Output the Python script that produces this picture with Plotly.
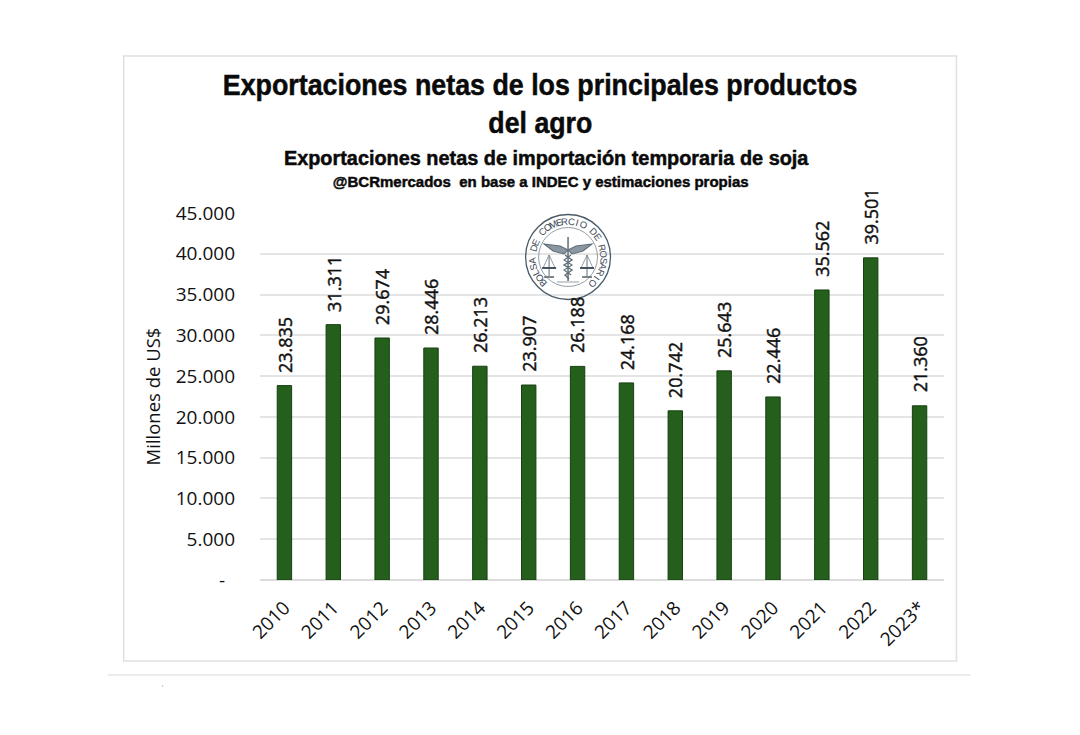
import math
import json
import plotly.graph_objects as go

years = ["2010","2011","2012","2013","2014","2015","2016","2017","2018","2019","2020","2021","2022","2023*"]
values = [23835,31311,29674,28446,26213,23907,26188,24168,20742,25643,22446,35562,39501,21360]
y_ticks = [0,5000,10000,15000,20000,25000,30000,35000,40000,45000]
y_tick_labels = ["-\u00a0\u00a0","5.000","10.000","15.000","20.000","25.000","30.000","35.000","40.000","45.000"]
value_labels = [f"{v:,}".replace(",", ".") for v in values]
title_lines = ["Exportaciones netas de los principales productos", "del agro"]
subtitle = "Exportaciones netas de importación temporaria de soja"
source = "@BCRmercados  en base a INDEC y estimaciones propias"
logo_text = "BOLSA DE COMERCIO DE ROSARIO"

W, H = 1080, 735
L, R, T, B = 259.5, 944.5, 213, 580
def px(x): return (x - L) / (R - L)
def py(y): return (B - y) / (B - T)

shapes, ann = [], []
def line(x0, y0, x1, y1, color="#e2e2e2", width=1.5):
    shapes.append(dict(type="line", xref="paper", yref="paper", x0=px(x0), y0=py(y0), x1=px(x1), y1=py(y1),
                       line=dict(color=color, width=width), layer="below"))
def text(x, y, s, size, font="Liberation Sans", bold=True, angle=0, color="#0a0a0a"):
    ann.append(dict(xref="paper", yref="paper", x=px(x), y=py(y), text=f"<b>{s}</b>" if bold else s, showarrow=False,
                    xanchor="center", yanchor="middle", textangle=angle,
                    font=dict(family=font, size=size, color=color)))

# frame, rule and the small speck under it
shapes.append(dict(type="rect", xref="paper", yref="paper", x0=px(123), y0=py(56), x1=px(957), y1=py(661),
                   line=dict(color="#e0e0e0", width=1.5), layer="below"))
line(107, 675, 971, 675, "#e6e6e6", 1.5)
line(162, 685, 162, 687, "#c8c8c8", 1)

# headings (condensed to the reference widths by the script at the end)
text(539.5, 85, title_lines[0], 30)
text(540, 123, title_lines[1], 30)
text(546.5, 157, subtitle, 21)
text(540, 181, source, 15.5)
heading_widths = [635, 104, 525, 416]

# logo
cx, cy = 568, 257
def circle(r, w, color="#4a5a66"):
    shapes.append(dict(type="circle", xref="paper", yref="paper", x0=px(cx-r), x1=px(cx+r), y0=py(cy-r), y1=py(cy+r),
                       line=dict(color=color, width=w), layer="above"))
circle(42.5, 1.3); circle(29.5, 0.8, "#7a8790")
n = len(logo_text)
for i, ch in enumerate(logo_text):
    a = -136 + 272 * i / (n - 1)
    ra = math.radians(a)
    if ch != " ":
        text(cx + 36 * math.sin(ra), cy - 36 * math.cos(ra), ch, 9.5, "Liberation Sans", False, a, "#3c4a55")
def path(pts, color="#5f6e79", w=1.1, fill=None):
    d = "M " + " L ".join(f"{px(cx+a):.5f},{py(cy+b):.5f}" for a, b in pts)
    if fill: d += " Z"
    shapes.append(dict(type="path", xref="paper", yref="paper", path=d, layer="above",
                       line=dict(color=color, width=w), fillcolor=fill or "rgba(0,0,0,0)"))
# staff, wings, scales
path([(0,-20),(0,24)], "#5f6e79", 1.5)
path([(0,-7),(-8,-11),(-24,-13),(-15,-6),(-4,-3)], fill="#8b98a2")
path([(0,-7),(8,-11),(24,-13),(15,-6),(4,-3)], fill="#8b98a2")
path([(-3,-2),(4,3),(-4,8),(4,13),(-3,18),(1,22)], "#5f6e79", 1.4)
path([(3,-2),(-4,3),(4,8),(-4,13),(3,18)], "#5f6e79", 1.1)
for s in (-1, 1):
    path([(s*19,-2),(s*19,19)], "#5f6e79", 1)
    path([(s*19,-2),(s*13,11),(s*25,11),(s*19,-2)], "#7a8790", 0.8)
    path([(s*12,11),(s*26,11)], "#46545e", 2)
    path([(s*14,20),(s*24,20)], "#46545e", 1.4)
path([(-11,25),(11,25)], "#7a8790", 0.8)

# value labels sit a little above each bar
for i, (v, lab) in enumerate(zip(values, value_labels)):
    ann.append(dict(xref="x", yref="y", x=i, y=v, yshift=11, text=lab, showarrow=False,
                    textangle=-90, xanchor="center", yanchor="bottom",
                    font=dict(family="Open Sans", size=18, color="#111111")))

fig = go.Figure(go.Bar(
    x=years, y=values, cliponaxis=False,
    marker=dict(color="#24601c", line=dict(color="#173f12", width=1)),
    width=0.295,
))
fig.update_layout(
    width=W, height=H, autosize=False, paper_bgcolor="white", plot_bgcolor="white", showlegend=False,
    margin=dict(l=L, r=W-R, t=T, b=H-B, pad=0), shapes=shapes, annotations=ann,
    xaxis=dict(type="category", categoryorder="array", categoryarray=years, tickangle=-45, ticks="", showgrid=False,
               showline=False, ticklabelstandoff=12, tickfont=dict(family="Open Sans", size=19, color="#111111")),
    yaxis=dict(range=[0,45000], tickmode="array", tickvals=y_ticks, ticktext=y_tick_labels, ticks="",
               ticklabelstandoff=24, showline=False, zeroline=True, zerolinecolor="#dcdcdc", zerolinewidth=1.5,
               gridcolor="#e4e4e4", gridwidth=1.5,
               tickfont=dict(family="Open Sans", size=19, color="#111111"),
               title=dict(text="Millones de US$", standoff=10, font=dict(family="Open Sans", size=18.5, color="#111111"))),
)
squeeze = """
document.body.style.margin='0';
var widths = %s;
var gd = document.getElementsByClassName('plotly-graph-div')[0];
var nodes = gd.querySelectorAll('.annotation-text');
widths.forEach(function(w, i){
  var t = nodes[i], b = t.getBBox(), c = b.x + b.width/2;
  t.setAttribute('transform', 'translate('+c+' 0) scale('+(w/b.width)+' 1) translate('+(-c)+' 0)');
  t.style.stroke = '#0a0a0a'; t.style.strokeWidth = '0.5px';
});
for (var k = nodes.length - %d; k < nodes.length; k++) {
  nodes[k].style.stroke = '#111111'; nodes[k].style.strokeWidth = '0.45px';
}
""" % (json.dumps(heading_widths), len(values))
fig.write_html("out.html", config=dict(displayModeBar=False), post_script=squeeze)
